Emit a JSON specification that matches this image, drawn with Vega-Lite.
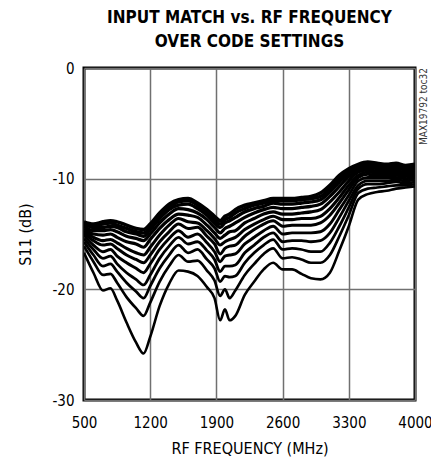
{
  "$schema": "https://vega.github.io/schema/vega-lite/v6.json",
  "autosize": {"type": "none"},
  "width": 331,
  "height": 332,
  "padding": {"left": 84, "top": 68, "right": 16, "bottom": 63},
  "background": "white",
  "title": {
    "text": ["INPUT MATCH vs. RF FREQUENCY", "OVER CODE SETTINGS"],
    "font": "DejaVu Sans Condensed, DejaVu Sans, sans-serif",
    "fontSize": 17,
    "fontWeight": "bold",
    "lineHeight": 24,
    "anchor": "middle",
    "offset": 10,
    "color": "black"
  },
  "config": {
    "view": {"stroke": "black", "strokeWidth": 3},
    "axis": {
      "labelFont": "DejaVu Sans Condensed, DejaVu Sans, sans-serif",
      "titleFont": "DejaVu Sans Condensed, DejaVu Sans, sans-serif",
      "labelFontSize": 15,
      "titleFontSize": 16,
      "titleFontWeight": "normal",
      "labelColor": "black",
      "titleColor": "black",
      "ticks": false,
      "domain": false,
      "grid": true,
      "gridColor": "#707070",
      "gridWidth": 1.5,
      "gridOpacity": 1
    }
  },
  "layer": [
    {
      "data": {"values": [
        {"f":500,"c1":-13.9,"c2":-14.0,"c3":-14.1,"c4":-14.3,"c5":-14.5,"c6":-14.7,"c7":-14.9,"c8":-15.1,"c9":-15.4,"c10":-15.7,"c11":-16.1,"c12":-16.7},
        {"f":600,"c1":-14.1,"c2":-14.3,"c3":-14.4,"c4":-14.7,"c5":-15.0,"c6":-15.3,"c7":-15.6,"c8":-16.0,"c9":-16.4,"c10":-16.9,"c11":-17.5,"c12":-18.5},
        {"f":700,"c1":-13.9,"c2":-14.1,"c3":-14.4,"c4":-14.7,"c5":-15.1,"c6":-15.6,"c7":-16.0,"c8":-16.6,"c9":-17.2,"c10":-17.9,"c11":-18.7,"c12":-20.1},
        {"f":780,"c1":-13.8,"c2":-14.0,"c3":-14.3,"c4":-14.6,"c5":-15.0,"c6":-15.5,"c7":-15.9,"c8":-16.4,"c9":-17.0,"c10":-17.7,"c11":-18.6,"c12":-19.9},
        {"f":850,"c1":-13.9,"c2":-14.2,"c3":-14.4,"c4":-14.8,"c5":-15.3,"c6":-15.8,"c7":-16.3,"c8":-17.0,"c9":-17.7,"c10":-18.4,"c11":-19.4,"c12":-21.0},
        {"f":950,"c1":-14.2,"c2":-14.5,"c3":-14.8,"c4":-15.2,"c5":-15.7,"c6":-16.3,"c7":-16.9,"c8":-17.6,"c9":-18.5,"c10":-19.4,"c11":-20.7,"c12":-23.0},
        {"f":1050,"c1":-14.5,"c2":-14.8,"c3":-15.0,"c4":-15.4,"c5":-15.9,"c6":-16.7,"c7":-17.3,"c8":-18.1,"c9":-19.1,"c10":-20.2,"c11":-21.7,"c12":-24.8},
        {"f":1130,"c1":-14.6,"c2":-14.9,"c3":-15.2,"c4":-15.6,"c5":-16.2,"c6":-16.9,"c7":-17.6,"c8":-18.5,"c9":-19.6,"c10":-20.8,"c11":-22.4,"c12":-25.8},
        {"f":1200,"c1":-14.1,"c2":-14.4,"c3":-14.6,"c4":-15.0,"c5":-15.5,"c6":-16.2,"c7":-16.9,"c8":-17.7,"c9":-18.7,"c10":-19.7,"c11":-21.2,"c12":-24.3},
        {"f":1300,"c1":-13.1,"c2":-13.4,"c3":-13.6,"c4":-14.0,"c5":-14.5,"c6":-15.1,"c7":-15.7,"c8":-16.4,"c9":-17.2,"c10":-18.1,"c11":-19.3,"c12":-21.5},
        {"f":1400,"c1":-12.3,"c2":-12.6,"c3":-12.8,"c4":-13.2,"c5":-13.7,"c6":-14.2,"c7":-14.8,"c8":-15.4,"c9":-16.1,"c10":-16.9,"c11":-17.9,"c12":-19.5},
        {"f":1500,"c1":-11.9,"c2":-12.1,"c3":-12.4,"c4":-12.7,"c5":-13.2,"c6":-13.6,"c7":-14.1,"c8":-14.7,"c9":-15.3,"c10":-16.0,"c11":-16.9,"c12":-18.3},
        {"f":1600,"c1":-11.8,"c2":-12.0,"c3":-12.3,"c4":-12.8,"c5":-13.3,"c6":-13.9,"c7":-14.5,"c8":-15.3,"c9":-15.9,"c10":-16.7,"c11":-17.5,"c12":-18.4},
        {"f":1700,"c1":-12.2,"c2":-12.4,"c3":-12.7,"c4":-13.1,"c5":-13.5,"c6":-14.0,"c7":-14.4,"c8":-15.0,"c9":-15.7,"c10":-16.4,"c11":-17.4,"c12":-18.8},
        {"f":1800,"c1":-12.8,"c2":-13.1,"c3":-13.3,"c4":-13.7,"c5":-14.2,"c6":-14.7,"c7":-15.2,"c8":-15.8,"c9":-16.5,"c10":-17.3,"c11":-18.3,"c12":-19.8},
        {"f":1880,"c1":-13.4,"c2":-13.7,"c3":-14.0,"c4":-14.4,"c5":-14.9,"c6":-15.4,"c7":-15.9,"c8":-16.6,"c9":-17.3,"c10":-18.1,"c11":-19.2,"c12":-20.8},
        {"f":1940,"c1":-13.8,"c2":-14.1,"c3":-14.4,"c4":-14.9,"c5":-15.4,"c6":-16.0,"c7":-16.8,"c8":-17.5,"c9":-18.4,"c10":-19.3,"c11":-20.6,"c12":-22.8},
        {"f":1990,"c1":-13.4,"c2":-13.7,"c3":-14.0,"c4":-14.5,"c5":-15.1,"c6":-15.7,"c7":-16.3,"c8":-17.0,"c9":-17.9,"c10":-18.8,"c11":-20.0,"c12":-21.8},
        {"f":2040,"c1":-13.2,"c2":-13.5,"c3":-13.8,"c4":-14.3,"c5":-14.8,"c6":-15.5,"c7":-16.1,"c8":-16.9,"c9":-17.9,"c10":-18.9,"c11":-20.8,"c12":-22.8},
        {"f":2100,"c1":-12.8,"c2":-13.1,"c3":-13.5,"c4":-14.0,"c5":-14.7,"c6":-15.3,"c7":-16.0,"c8":-16.8,"c9":-17.8,"c10":-18.8,"c11":-20.1,"c12":-22.4},
        {"f":2200,"c1":-12.4,"c2":-12.7,"c3":-13.0,"c4":-13.5,"c5":-14.0,"c6":-14.6,"c7":-15.2,"c8":-15.9,"c9":-16.7,"c10":-17.6,"c11":-18.7,"c12":-20.5},
        {"f":2300,"c1":-12.2,"c2":-12.4,"c3":-12.7,"c4":-13.1,"c5":-13.6,"c6":-14.1,"c7":-14.6,"c8":-15.3,"c9":-16.0,"c10":-16.7,"c11":-17.7,"c12":-19.3},
        {"f":2400,"c1":-12.0,"c2":-12.2,"c3":-12.5,"c4":-12.8,"c5":-13.2,"c6":-13.7,"c7":-14.1,"c8":-14.7,"c9":-15.3,"c10":-16.0,"c11":-16.8,"c12":-18.2},
        {"f":2500,"c1":-11.8,"c2":-12.0,"c3":-12.2,"c4":-12.6,"c5":-13.0,"c6":-13.4,"c7":-13.8,"c8":-14.3,"c9":-14.9,"c10":-15.5,"c11":-16.3,"c12":-17.6},
        {"f":2600,"c1":-11.8,"c2":-12.0,"c3":-12.3,"c4":-12.7,"c5":-13.2,"c6":-13.7,"c7":-14.3,"c8":-15.0,"c9":-15.7,"c10":-16.4,"c11":-17.2,"c12":-18.2},
        {"f":2700,"c1":-11.8,"c2":-12.0,"c3":-12.3,"c4":-12.7,"c5":-13.2,"c6":-13.7,"c7":-14.2,"c8":-14.9,"c9":-15.6,"c10":-16.3,"c11":-17.1,"c12":-18.2},
        {"f":2800,"c1":-11.7,"c2":-11.9,"c3":-12.2,"c4":-12.6,"c5":-13.1,"c6":-13.6,"c7":-14.2,"c8":-14.9,"c9":-15.6,"c10":-16.4,"c11":-17.3,"c12":-18.6},
        {"f":2900,"c1":-11.6,"c2":-11.8,"c3":-12.1,"c4":-12.5,"c5":-13.0,"c6":-13.6,"c7":-14.2,"c8":-14.9,"c9":-15.7,"c10":-16.6,"c11":-17.6,"c12":-19.0},
        {"f":3000,"c1":-11.3,"c2":-11.6,"c3":-11.9,"c4":-12.3,"c5":-12.8,"c6":-13.4,"c7":-14.0,"c8":-14.8,"c9":-15.6,"c10":-16.6,"c11":-17.6,"c12":-19.1},
        {"f":3100,"c1":-10.6,"c2":-10.9,"c3":-11.2,"c4":-11.6,"c5":-12.1,"c6":-12.7,"c7":-13.3,"c8":-14.1,"c9":-14.9,"c10":-15.8,"c11":-16.9,"c12":-18.5},
        {"f":3200,"c1":-9.7,"c2":-10.0,"c3":-10.3,"c4":-10.7,"c5":-11.2,"c6":-11.7,"c7":-12.2,"c8":-12.8,"c9":-13.5,"c10":-14.3,"c11":-15.2,"c12":-16.5},
        {"f":3300,"c1":-9.1,"c2":-9.3,"c3":-9.5,"c4":-9.8,"c5":-10.2,"c6":-10.6,"c7":-11.0,"c8":-11.5,"c9":-12.0,"c10":-12.6,"c11":-13.3,"c12":-14.3},
        {"f":3400,"c1":-8.7,"c2":-8.8,"c3":-9.0,"c4":-9.2,"c5":-9.4,"c6":-9.7,"c7":-9.9,"c8":-10.2,"c9":-10.6,"c10":-10.9,"c11":-11.3,"c12":-11.9},
        {"f":3500,"c1":-8.5,"c2":-8.6,"c3":-8.8,"c4":-9.0,"c5":-9.2,"c6":-9.4,"c7":-9.6,"c8":-9.9,"c9":-10.2,"c10":-10.5,"c11":-10.9,"c12":-11.4},
        {"f":3600,"c1":-8.6,"c2":-8.7,"c3":-8.9,"c4":-9.1,"c5":-9.3,"c6":-9.5,"c7":-9.7,"c8":-9.9,"c9":-10.2,"c10":-10.5,"c11":-10.8,"c12":-11.2},
        {"f":3700,"c1":-8.7,"c2":-8.8,"c3":-9.0,"c4":-9.2,"c5":-9.3,"c6":-9.5,"c7":-9.7,"c8":-9.9,"c9":-10.2,"c10":-10.4,"c11":-10.7,"c12":-11.1},
        {"f":3800,"c1":-8.6,"c2":-8.7,"c3":-8.9,"c4":-9.1,"c5":-9.3,"c6":-9.5,"c7":-9.7,"c8":-9.9,"c9":-10.1,"c10":-10.3,"c11":-10.6,"c12":-10.9},
        {"f":3900,"c1":-8.8,"c2":-8.9,"c3":-9.1,"c4":-9.2,"c5":-9.4,"c6":-9.6,"c7":-9.8,"c8":-10.0,"c9":-10.2,"c10":-10.4,"c11":-10.6,"c12":-10.8},
        {"f":4000,"c1":-8.7,"c2":-8.8,"c3":-9.0,"c4":-9.1,"c5":-9.3,"c6":-9.5,"c7":-9.7,"c8":-9.9,"c9":-10.1,"c10":-10.3,"c11":-10.5,"c12":-10.7}
      ]},
      "transform": [
        {"fold": ["c1","c2","c3","c4","c5","c6","c7","c8","c9","c10","c11","c12"], "as": ["curve", "s11"]}
      ],
      "mark": {"type": "line", "color": "black", "interpolate": "monotone", "strokeJoin": "round", "clip": true},
      "encoding": {
        "x": {
          "field": "f", "type": "quantitative",
          "scale": {"domain": [500, 4000], "nice": false, "zero": false},
          "axis": {"values": [500, 1200, 1900, 2600, 3300, 4000], "title": "RF FREQUENCY (MHz)", "format": "d", "labelFlush": false, "labelPadding": 15, "titlePadding": 10}
        },
        "y": {
          "field": "s11", "type": "quantitative",
          "scale": {"domain": [-30, 0], "nice": false, "zero": false},
          "axis": {"values": [-30, -20, -10, 0], "title": "S11 (dB)", "labelExpr": "datum.value == 0 ? '0' : '-' + abs(datum.value)", "labelPadding": 10, "titlePadding": 18}
        },
        "detail": {"field": "curve"},
        "strokeWidth": {
          "field": "curve", "type": "ordinal",
          "scale": {"domain": ["c1","c2","c3","c4","c5","c6","c7","c8","c9","c10","c11","c12"], "range": [3.5, 2.6, 2.6, 2.6, 2.6, 2.6, 2.6, 2.6, 2.6, 2.6, 2.8, 4.5]},
          "legend": null
        }
      }
    },
    {
      "data": {"values": [{"note": "MAX19792 toc32"}]},
      "mark": {"type": "text", "angle": 270, "align": "right", "baseline": "middle", "dx": 0, "dy": 9, "fontSize": 10, "font": "DejaVu Sans Condensed, DejaVu Sans, sans-serif", "color": "#333333", "clip": false},
      "encoding": {
        "x": {"datum": 4000},
        "y": {"datum": 0},
        "text": {"field": "note"}
      }
    }
  ]
}
